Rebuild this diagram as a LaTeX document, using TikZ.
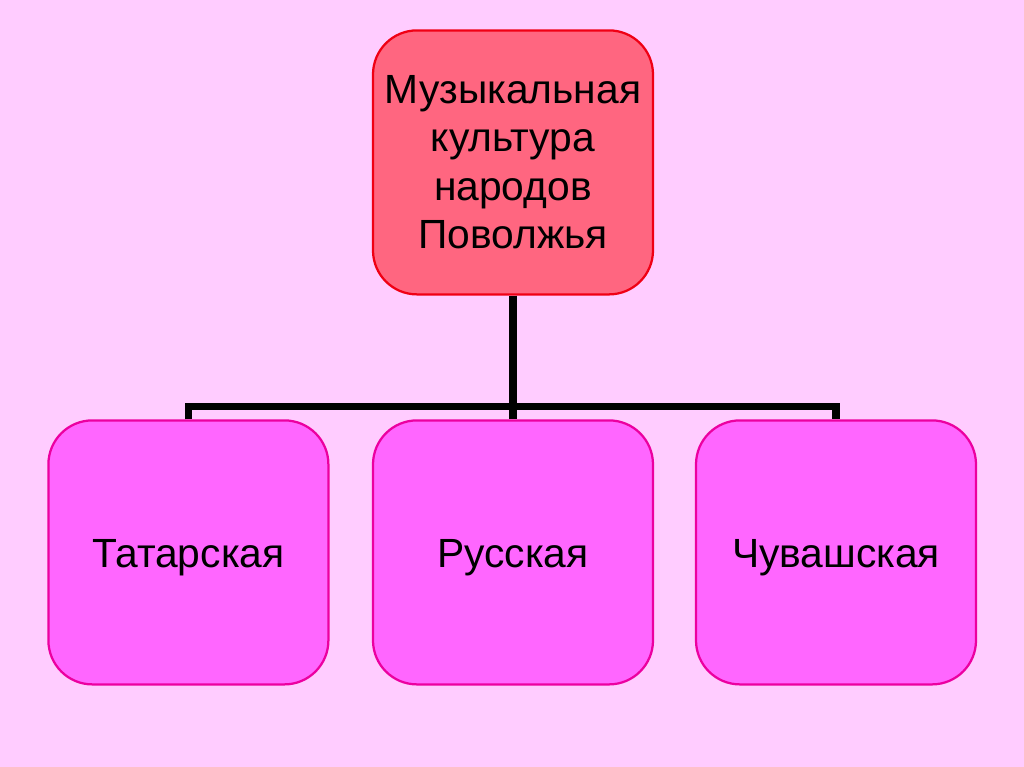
\documentclass[tikz,border=0pt]{standalone}
\usepackage{fontspec}
\setmainfont{Liberation Sans}
\definecolor{bgpink}{RGB}{255,204,255}
\definecolor{topfill}{RGB}{255,102,128}
\definecolor{topline}{RGB}{240,0,20}
\definecolor{boxfill}{RGB}{255,102,255}
\definecolor{boxline}{RGB}{236,0,160}
\begin{document}
\begin{tikzpicture}[
  topbox/.style={draw=topline, fill=topfill, line width=1.6pt, rounded corners=1.1cm,
    minimum width=7cm, minimum height=6.6cm, inner sep=0pt, align=center,
    font=\fontsize{29}{34.5}\selectfont},
  kindbox/.style={draw=boxline, fill=boxfill, line width=1.6pt, rounded corners=1.1cm,
    minimum width=7cm, minimum height=6.6cm, inner sep=0pt,
    text height=28pt, text depth=6pt,
    font=\fontsize{29}{34.5}\selectfont},
  link/.style={line width=5pt, line join=miter}
]
\fill[bgpink] (0,0) rectangle (25.6,-19.175);
\useasboundingbox (0,0) rectangle (25.6,-19.175);
\node[topbox] (music) at (12.825,-4.06) {Музыкальная\\культура\\народов\\Поволжья};
\node[kindbox] (tatar) at (4.71,-13.81) {Татарская};
\node[kindbox] (russ) at (12.825,-13.81) {Русская};
\node[kindbox] (chuv) at (20.9,-13.81) {Чувашская};
\draw[link] (tatar.north) -- ++(0,0.33) -| (chuv.north);
\draw[link] (music.south) -- (russ.north);
\end{tikzpicture}
\end{document}
